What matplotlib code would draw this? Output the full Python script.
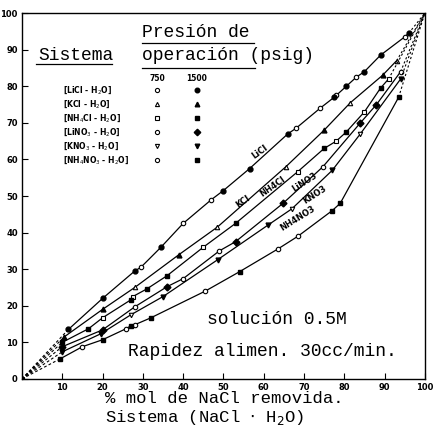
import matplotlib
matplotlib.use("Agg")
import matplotlib.pyplot as plt

# valores (% NaCl removida, % sal removida)
licl_750_x = [29.5, 40, 47, 68, 74, 78, 83, 95]
licl_750_y = [30.5, 42.5, 49, 68.5, 74, 77.5, 82.5, 93.5]
licl_1500_x = [11.5, 20, 28, 34.5, 50, 56.5, 66, 77.5, 80.5, 85, 89, 96]
licl_1500_y = [13.5, 22, 29.5, 36, 51.5, 57.5, 67, 77, 80, 84, 88.5, 94.5]

kcl_750_x = [28, 48.5, 65.5, 81.5, 93]
kcl_750_y = [25, 41.5, 58, 75.5, 87]
kcl_1500_x = [10.5, 20, 39, 75, 89.5]
kcl_1500_y = [11.5, 19, 34, 68, 83]

nh4cl_750_x = [20, 27.5, 45, 68.5, 78, 85, 91]
nh4cl_750_y = [16.7, 22.5, 36, 56.7, 65, 73, 82]
nh4cl_1500_x = [10, 16.5, 27, 31, 36, 53, 75, 80.5, 89]
nh4cl_1500_y = [10, 13.7, 21.6, 24.6, 28.2, 42.5, 63, 67.5, 79.5]

lino3_750_x = [28, 40, 49, 74.7, 94]
lino3_750_y = [19.7, 27.4, 35, 58, 84]
lino3_1500_x = [10, 20, 36, 53, 64.8, 84, 88]
lino3_1500_y = [8.8, 13.4, 25.2, 37.5, 48, 70, 75]

kno3_750_x = [27, 67, 84]
kno3_750_y = [17.5, 46.5, 67]
kno3_1500_x = [10, 19.5, 35, 48.6, 61, 77, 94]
kno3_1500_y = [7.4, 12.3, 22.5, 32.6, 42, 57, 82]

nh4no3_750_x = [15, 25.8, 28, 45.5, 63.5, 68.5]
nh4no3_750_y = [8.8, 13.7, 14.8, 24, 35.5, 39]
nh4no3_1500_x = [9.5, 20, 27, 32, 54, 77, 79, 93.5]
nh4no3_1500_y = [5.5, 10.7, 14.5, 16.7, 29.3, 46, 48, 77]

sistemas = [
    ("[LiCl - H$_2$O]", "LiCl", licl_750_x, licl_750_y, licl_1500_x, licl_1500_y, "o", "o"),
    ("[KCl - H$_2$O]", "KCl", kcl_750_x, kcl_750_y, kcl_1500_x, kcl_1500_y, "^", "^"),
    ("[NH$_4$Cl - H$_2$O]", "NH4Cl", nh4cl_750_x, nh4cl_750_y, nh4cl_1500_x, nh4cl_1500_y, "s", "s"),
    ("[LiNO$_3$ - H$_2$O]", "LiNO3", lino3_750_x, lino3_750_y, lino3_1500_x, lino3_1500_y, "o", "D"),
    ("[KNO$_3$ - H$_2$O]", "KNO3", kno3_750_x, kno3_750_y, kno3_1500_x, kno3_1500_y, "v", "v"),
    ("[NH$_4$NO$_3$ - H$_2$O]", "NH4NO3", nh4no3_750_x, nh4no3_750_y, nh4no3_1500_x, nh4no3_1500_y, "o", "s"),
]

# etiquetas de curva: posicion y giro
etiq_x = [59, 54.8, 62.3, 70.2, 72.7, 68.5]
etiq_y = [62, 48.4, 52.5, 53.8, 50.3, 44]
etiq_rot = [36, 35, 35, 33, 33, 32]

mono = "Liberation Mono"

fig = plt.figure(figsize=(4.35, 4.38), dpi=100)
ax = fig.add_axes([0.0506, 0.135, 0.926, 0.835])

for i, (leg, nombre, x7, y7, x15, y15, m7, m15) in enumerate(sistemas):
    pts = sorted(zip(x7 + x15, y7 + y15))
    xs = [p[0] for p in pts]
    ys = [p[1] for p in pts]
    ax.plot(xs, ys, color="black", lw=0.9)
    # extensiones punteadas hacia (0,0) y (100,100)
    ax.plot([0, xs[0]], [0, ys[0]], color="black", lw=0.8, ls=(0, (2.5, 2)))
    ax.plot([xs[-1], 100], [ys[-1], 100], color="black", lw=0.8, ls=(0, (2, 2)))
    ax.plot(x7, y7, ls="none", marker=m7, ms=3.2, mfc="white", mec="black", mew=0.8)
    ax.plot(x15, y15, ls="none", marker=m15, ms=3.5, mfc="black", mec="black")
    ax.text(etiq_x[i], etiq_y[i], nombre, fontsize=6, rotation=etiq_rot[i],
            ha="center", va="center", fontweight="bold")

    # leyenda propia
    ly = 79 - i * 3.85
    ax.text(10.2, ly, leg, fontsize=5.5, fontweight="bold", va="center")
    ax.plot([33.5], [ly], marker=m7, ms=3, mfc="white", mec="black", mew=0.8)
    ax.plot([43.4], [ly], marker=m15, ms=3.3, mfc="black", mec="black")

ax.plot([0], [0], marker="o", ms=3, color="black")

ax.text(33.5, 82.2, "750", fontsize=5.5, fontweight="bold", ha="center", va="center")
ax.text(43.4, 82.2, "1500", fontsize=5.5, fontweight="bold", ha="center", va="center")

ax.text(4, 88.5, "Sistema", family=mono, fontsize=13, va="center")
ax.plot([3.5, 22.3], [86.0, 86.0], color="black", lw=0.9)
ax.text(29.8, 94.8, "Presión de", family=mono, fontsize=13, va="center")
ax.plot([29.8, 57.5], [91.8, 91.8], color="black", lw=0.9)
ax.text(29.8, 88.3, "operación (psig)", family=mono, fontsize=13, va="center")
ax.plot([29.8, 57.8], [85.1, 85.1], color="black", lw=0.9)

ax.text(45.9, 16.1, "solución 0.5M", family=mono, fontsize=13, va="center")
ax.text(26.3, 7.4, "Rapidez alimen. 30cc/min.", family=mono, fontsize=13, va="center")

ax.set_xlim(0, 100)
ax.set_ylim(0, 100)
ax.set_xticks(range(0, 101, 10))
ax.set_xticklabels([""] + [str(v) for v in range(10, 101, 10)])
ax.set_yticks(range(0, 101, 10))
ax.tick_params(direction="in", length=4, width=0.8, labelsize=6, pad=3)
for lab in ax.get_xticklabels() + ax.get_yticklabels():
    lab.set_fontweight("bold")
for sp in ax.spines.values():
    sp.set_linewidth(1.0)

fig.text(0.241, 0.0913, "% mol de NaCl removida.", family=mono, fontsize=12.4,
         ha="left", va="center")
fig.text(0.241, 0.0457, "Sistema (NaCl $\\cdot$ H$_2$O)", family=mono, fontsize=12.4,
         ha="left", va="center")

fig.savefig("out.png", dpi=100)
